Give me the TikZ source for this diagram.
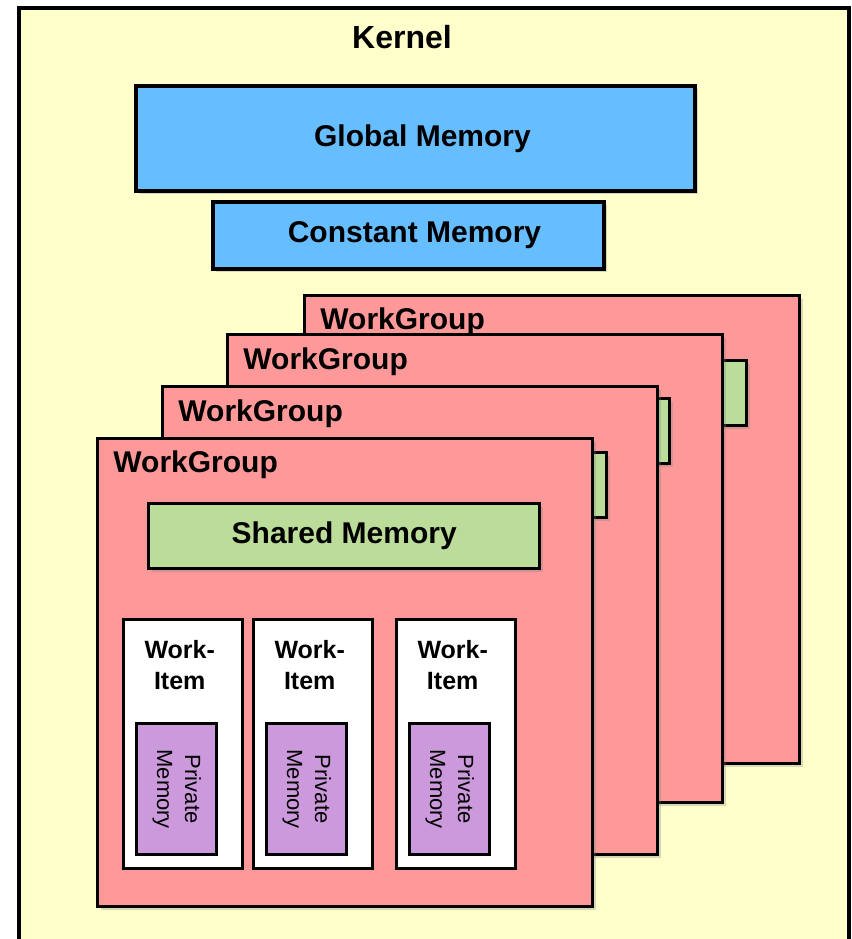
\documentclass[tikz,border=0pt]{standalone}
\usepackage{fontspec}
\setmainfont{Liberation Sans}
\usetikzlibrary{shadows}
\definecolor{kernelyellow}{RGB}{255,255,204}
\definecolor{memblue}{RGB}{102,190,255}
\definecolor{wgred}{RGB}{255,153,153}
\definecolor{shmgreen}{RGB}{187,221,153}
\definecolor{pmpurple}{RGB}{204,153,221}
\begin{document}
\begin{tikzpicture}[x=0.5pt,y=0.5pt,
  box/.style={draw,line width=1.7pt,inner sep=0pt},
  soft/.style={drop shadow={shadow xshift=1.5pt,shadow yshift=-1.5pt,opacity=0.3}},
  bold15/.style={font=\bfseries\fontsize{15pt}{18pt}\selectfont},
  memory/.style={box,soft,bold15,fill=memblue},
  wg/.style={box,soft,fill=wgred,minimum width=247.5pt,minimum height=234pt,anchor=north west},
  wgtitle/.style={bold15,anchor=base west,inner sep=0pt},
  shm/.style={box,soft,bold15,fill=shmgreen,minimum width=195.5pt,minimum height=32.5pt,anchor=north west},
  wi/.style={box,fill=white,minimum width=59.5pt,minimum height=124.5pt,anchor=north west},
  witext/.style={font=\bfseries\fontsize{12.5pt}{15.5pt}\selectfont,align=center,anchor=north,inner sep=0pt},
  pm/.style={box,fill=pmpurple,minimum width=40pt,minimum height=65.5pt,anchor=south},
  pmtext/.style={font=\fontsize{11pt}{14pt}\selectfont,align=center,rotate=-90,inner sep=0pt}]
\useasboundingbox (0,0) rectangle (852,939);
\clip (0,0) rectangle (852,939);
\fill[white] (0,0) rectangle (852,939);
\node[box,fill=kernelyellow,minimum width=415pt,minimum height=475.5pt] (kernel) at (434,455.5) {};
\node[font=\bfseries\fontsize{16pt}{19pt}\selectfont,anchor=base] (kerneltitle) at (402,890) {Kernel};
\node[memory,minimum width=279.5pt,minimum height=52.5pt] (global) at (415.5,800.5) {\hspace{7pt}Global Memory};
\node[memory,minimum width=195.5pt,minimum height=33.5pt] (constant) at (408.5,703.5) {\hspace{6pt}Constant Memory};
\node[wg] (wg4) at (303,645) {};
\node[wgtitle] (wg4title) at ([xshift=8.5pt,yshift=-18pt]wg4.north west) {WorkGroup};
\node[shm] (shm4) at ([xshift=25.5pt,yshift=-32.5pt]wg4.north west) {};
\node[wg] (wg3) at (226,606) {};
\node[wgtitle] (wg3title) at ([xshift=8.5pt,yshift=-18.5pt]wg3.north west) {WorkGroup};
\node[shm] (shm3) at ([xshift=25.5pt,yshift=-32pt]wg3.north west) {};
\node[wg] (wg2) at (161,554) {};
\node[wgtitle] (wg2title) at ([xshift=8.5pt,yshift=-18.5pt]wg2.north west) {WorkGroup};
\node[shm] (shm2) at ([xshift=26.5pt,yshift=-33pt]wg2.north west) {};
\node[wg] (wg1) at (96,502) {};
\node[wgtitle] (wg1title) at ([xshift=8.5pt,yshift=-18pt]wg1.north west) {WorkGroup};
\node[shm] (shm1) at ([xshift=25.5pt,yshift=-32.5pt]wg1.north west) {Shared Memory};
\node[wi] (wi1) at (122,321) {};
\node[witext] (wt1) at ([xshift=-1.75pt,yshift=-11pt]wi1.north) {Work-\\Item};
\node[pm] (pm1) at ([xshift=-3.25pt,yshift=7pt]wi1.south) {};
\node[pmtext] (pt1) at (pm1) {Private\\Memory};
\node[wi] (wi2) at (252,321) {};
\node[witext] (wt2) at ([xshift=-1.75pt,yshift=-11pt]wi2.north) {Work-\\Item};
\node[pm] (pm2) at ([xshift=-3.25pt,yshift=7pt]wi2.south) {};
\node[pmtext] (pt2) at (pm2) {Private\\Memory};
\node[wi] (wi3) at (395,321) {};
\node[witext] (wt3) at ([xshift=-1.75pt,yshift=-11pt]wi3.north) {Work-\\Item};
\node[pm] (pm3) at ([xshift=-3.25pt,yshift=7pt]wi3.south) {};
\node[pmtext] (pt3) at (pm3) {Private\\Memory};
\end{tikzpicture}
\end{document}
